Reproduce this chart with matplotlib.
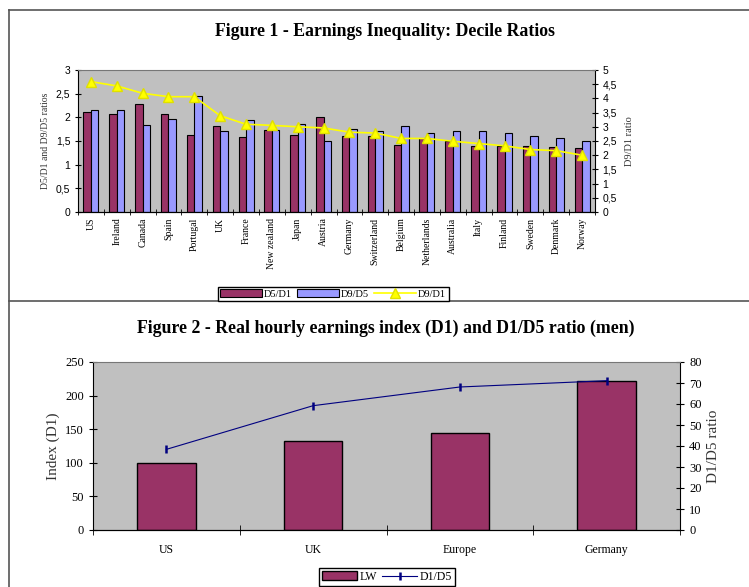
import numpy as np
import matplotlib
matplotlib.use("Agg")
import matplotlib.pyplot as plt
from matplotlib.lines import Line2D
from matplotlib.ticker import FuncFormatter, MultipleLocator

# figure 1 data
countries = ["US", "Ireland", "Canada", "Spain", "Portugal", "UK", "France",
             "New zealand", "Japan", "Austria", "Germany", "Switzerland",
             "Belgium", "Netherlands", "Australia", "Italy", "Finland",
             "Sweden", "Denmark", "Norway"]
d5_d1 = [2.12, 2.07, 2.29, 2.08, 1.63, 1.81, 1.59, 1.74, 1.63, 2.01,
         1.60, 1.60, 1.42, 1.57, 1.49, 1.40, 1.40, 1.40, 1.38, 1.36]
d9_d5 = [2.15, 2.15, 1.83, 1.96, 2.46, 1.72, 1.94, 1.74, 1.86, 1.49,
         1.76, 1.72, 1.81, 1.66, 1.71, 1.72, 1.66, 1.60, 1.57, 1.51]
d9_d1 = [4.59, 4.44, 4.18, 4.06, 4.06, 3.39, 3.09, 3.05, 3.00, 2.96,
         2.81, 2.78, 2.59, 2.59, 2.49, 2.41, 2.33, 2.20, 2.16, 2.00]

# figure 2 data
regions = ["US", "UK", "Europe", "Germany"]
lw = [100, 132, 144, 222]
d1_d5 = [38.4, 59.2, 68.1, 71.1]

MAROON = "#993366"
BLUE = "#9999FF"
GRAY = "#C0C0C0"
SERIF = "Liberation Serif"
SANS = "Liberation Sans"

W, H = 749, 587
fig = plt.figure(figsize=(W / 100, H / 100), dpi=100)


def px_axes(left, top, right, bottom):
    return fig.add_axes([left / W, 1 - bottom / H, (right - left) / W,
                         (bottom - top) / H])


comma = FuncFormatter(lambda v, p: ("%g" % v).replace(".", ","))

# frame lines
for xs, ys in [([9, W], [10, 10]), ([9, 9], [10, H]), ([9, W], [301, 301])]:
    fig.add_artist(Line2D([x / W for x in xs], [1 - y / H for y in ys],
                          color="#555555", lw=1.2))

# ---- Figure 1
fig.text(385 / W, 1 - 32 / H, "Figure 1 - Earnings Inequality: Decile Ratios",
         ha="center", va="center", fontsize=12.8, fontweight="bold",
         family=SERIF)

ax1 = px_axes(78, 70, 595, 212)
ax1.set_facecolor(GRAY)
x = np.arange(len(countries))
bw = 0.29
b1 = ax1.bar(x - bw / 2, d5_d1, bw, color=MAROON, edgecolor="black",
             lw=0.8, label="D5/D1")
b2 = ax1.bar(x + bw / 2, d9_d5, bw, color=BLUE, edgecolor="black",
             lw=0.8, label="D9/D5")
ax1.set_xlim(-0.5, len(countries) - 0.5)
ax1.set_ylim(0, 3)
ax1.yaxis.set_major_locator(MultipleLocator(0.5))
ax1.yaxis.set_major_formatter(comma)
ax1.set_xticks(x)
ax1.set_xticklabels(countries, rotation=90, fontsize=7, family=SERIF)
ax1.set_xticks(np.arange(len(countries) + 1) - 0.5, minor=True)
ax1.tick_params(axis="x", which="major", length=0, pad=4)
ax1.tick_params(axis="x", which="minor", length=4, direction="inout")
ax1.tick_params(axis="y", labelsize=7.5, length=4, direction="inout")
for lab in ax1.get_yticklabels():
    lab.set_family(SANS)
ax1.set_ylabel("D5/D1 and D9/D5 ratios", fontsize=7, family=SERIF,
               color="#333333", labelpad=4)
for s in ["top", "right"]:
    ax1.spines[s].set_visible(False)

ax1r = ax1.twinx()
l1, = ax1r.plot(x, d9_d1, color="#FFFF00", marker="^", ms=6.5, lw=1.2,
                markeredgecolor="#E0E000", label="D9/D1")
ax1r.set_ylim(0, 5)
ax1r.yaxis.set_major_locator(MultipleLocator(0.5))
ax1r.yaxis.set_major_formatter(comma)
ax1r.tick_params(axis="y", labelsize=7.5, length=4, direction="inout")
for lab in ax1r.get_yticklabels():
    lab.set_family(SANS)
ax1r.set_ylabel("D9/D1 ratio", fontsize=7.5, family=SERIF, color="#333333",
                labelpad=6)
ax1r.spines["top"].set_color("#777777")
ax1r.spines["left"].set_visible(False)

fig.legend([b1, b2, l1], ["D5/D1", "D9/D5", "D9/D1"], loc="center",
           bbox_to_anchor=(333 / W, 1 - 294 / H), ncol=3, fancybox=False,
           edgecolor="black", framealpha=1, prop={"family": SERIF, "size": 7.5},
           handlelength=4, handleheight=0.8, borderpad=0.25,
           columnspacing=0.5, handletextpad=0.2)

# ---- Figure 2
fig.text(386 / W, 1 - 328 / H,
         "Figure 2 - Real hourly earnings index (D1) and D1/D5 ratio (men)",
         ha="center", va="center", fontsize=12.8, fontweight="bold",
         family=SERIF)

ax2 = px_axes(93, 362, 680, 530)
ax2.set_facecolor(GRAY)
xr = np.arange(len(regions))
b3 = ax2.bar(xr, lw, 0.40, color=MAROON, edgecolor="black", lw=1,
             label="LW")
ax2.set_xlim(-0.5, len(regions) - 0.5)
ax2.set_ylim(0, 250)
ax2.yaxis.set_major_locator(MultipleLocator(50))
ax2.set_xticks(xr)
ax2.set_xticklabels(regions, fontsize=8.5, family=SERIF)
ax2.set_xticks(np.arange(len(regions) + 1) - 0.5, minor=True)
ax2.tick_params(axis="x", which="major", length=0, pad=10)
ax2.tick_params(axis="x", which="minor", length=7, direction="inout")
ax2.tick_params(axis="y", labelsize=9, length=6, direction="inout")
for lab in ax2.get_yticklabels():
    lab.set_family(SERIF)
ax2.set_ylabel("Index (D1)", fontsize=11, family=SERIF, color="#333333")
for s in ["top", "right"]:
    ax2.spines[s].set_visible(False)

ax2r = ax2.twinx()
l2, = ax2r.plot(xr, d1_d5, color="#000080", marker="|", ms=6, mew=1.8,
                lw=0.8, label="D1/D5")
ax2r.set_ylim(0, 80)
ax2r.yaxis.set_major_locator(MultipleLocator(10))
ax2r.tick_params(axis="y", labelsize=9, length=6, direction="inout")
for lab in ax2r.get_yticklabels():
    lab.set_family(SERIF)
ax2r.set_ylabel("D1/D5 ratio", fontsize=11, family=SERIF, color="#333333")
ax2r.spines["top"].set_color("#777777")
ax2r.spines["left"].set_visible(False)

fig.legend([b3, l2], ["LW", "D1/D5"], loc="center",
           bbox_to_anchor=(387 / W, 1 - 577 / H), ncol=2, fancybox=False,
           edgecolor="black", framealpha=1, prop={"family": SERIF, "size": 8.5},
           handlelength=3, handleheight=0.8, borderpad=0.25,
           columnspacing=0.4, handletextpad=0.2)

fig.savefig("out.png", dpi=100)
